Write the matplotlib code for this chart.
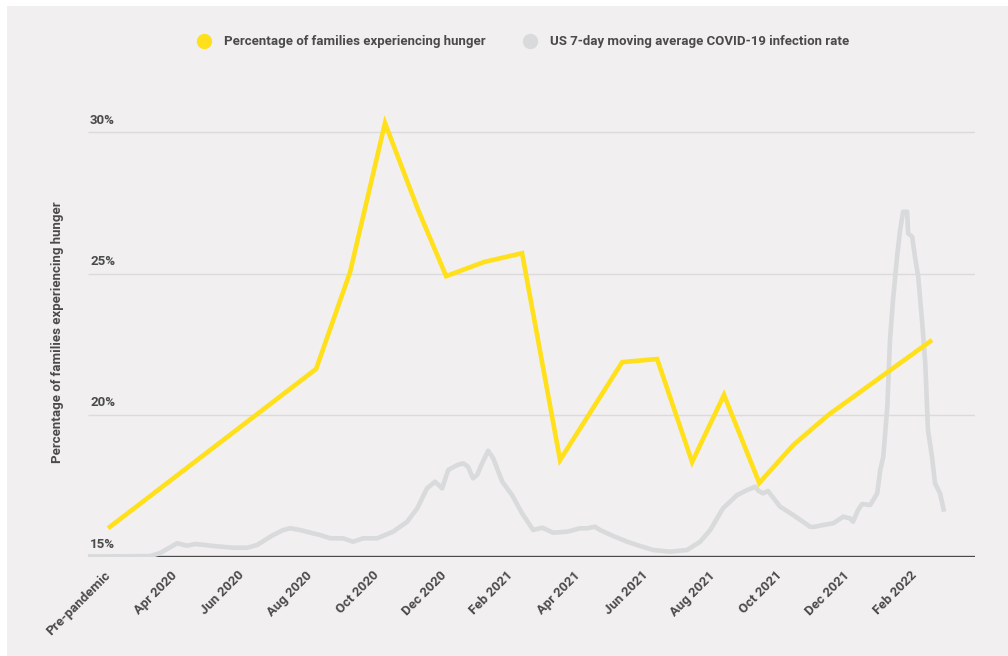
import matplotlib
matplotlib.use("Agg")
import matplotlib.pyplot as plt
from matplotlib.lines import Line2D
from matplotlib.patches import Rectangle

# x positions are months after the pre-pandemic survey point (Feb 2020 = 0)
tick_labels = ["Pre-pandemic", "Apr 2020", "Jun 2020", "Aug 2020", "Oct 2020", "Dec 2020",
               "Feb 2021", "Apr 2021", "Jun 2021", "Aug 2021", "Oct 2021", "Dec 2021", "Feb 2022"]
tick_months = [0, 2, 4, 6, 8, 10, 12, 14, 16, 18, 20, 22, 24]

hunger_months = [0, 6.19, 7.20, 8.24, 9.23, 10.06, 11.19, 12.32, 13.45, 15.30, 16.34,
                 17.38, 18.33, 19.38, 20.39, 21.43, 24.52]
hunger_pct = [16.0, 21.63, 25.05, 30.32, 27.24, 24.91, 25.41, 25.72, 18.41, 21.87, 21.98,
              18.34, 20.71, 17.60, 18.94, 20.0, 22.65]

# US 7-day average of new cases, thousands
covid_months = [-0.6, 1.25, 1.55, 2.05, 2.35, 2.59, 3.13, 3.72, 4.14, 4.43, 4.91, 5.21,
                5.42, 5.71, 6.10, 6.31, 6.61, 6.99, 7.29, 7.59, 8.01, 8.48, 8.90, 9.20,
                9.49, 9.73, 9.94, 10.12, 10.39, 10.57, 10.71, 10.86, 10.98, 11.13, 11.31,
                11.46, 11.73, 12.02, 12.32, 12.65, 12.92, 13.24, 13.66, 14.05, 14.26,
                14.49, 14.64, 15.03, 15.45, 15.83, 16.22, 16.73, 17.23, 17.62, 17.92,
                18.30, 18.72, 19.02, 19.26, 19.35, 19.49, 19.64, 20.0, 20.39, 20.89,
                21.0, 21.28, 21.58, 21.88, 22.08, 22.17, 22.32, 22.44, 22.68, 22.89,
                22.98, 23.07, 23.19, 23.27, 23.36, 23.48, 23.57, 23.66, 23.78, 23.81,
                23.93, 24.02, 24.11, 24.23, 24.32, 24.40, 24.52, 24.61, 24.76, 24.88]
covid_cases = [0, 1, 8, 30.8, 25.2, 29.2, 24.5, 20.5, 20.5, 26.8, 50.2, 61.8,
               65.8, 61.8, 54.1, 50.2, 42.5, 42.5, 34.5, 42.5, 42.5, 57.9, 81.2, 112.5,
               159, 174.5, 159, 201.8, 213.5, 217.4, 209.5, 182.4, 190.1, 217.4, 246.8,
               229.1, 174.5, 143.5, 100.8, 61.8, 67.2, 55.5, 57.9, 65.8, 65.8,
               69.5, 61.8, 47.8, 34.5, 24.5, 15.2, 11.2, 15.2, 34.5, 61.8,
               112.5, 143.5, 155.1, 162.8, 153.5, 147.4, 152.8, 116.2, 96.8, 69.5,
               69.0, 73.5, 77.5, 92.9, 89.1, 81.2, 108.5, 122.5, 120.1, 147.4,
               201.8, 232.8, 349.5, 505.1, 598.4, 699.4, 761.7, 804.4, 804.4, 754,
               746.1, 695.7, 652.8, 544.1, 450.7, 295.1, 232.8, 170.8, 147.4, 104.5]

grid_pct = [20, 25, 30]
ylabels = ["15%", "20%", "25%", "30%"]

BG = "#f1eff0"
TXT = "#4a4a4a"
YELLOW = "#ffe01b"
GREY = "#d9dadb"
FS = 9.5

plt.rcParams["font.family"] = ["Roboto", "DejaVu Sans"]
plt.rcParams["font.weight"] = "bold"

fig = plt.figure(figsize=(10.08, 6.56), dpi=100, facecolor="white")
fig.patches.append(Rectangle((7 / 1008, 0), 1, 650 / 656, transform=fig.transFigure,
                             facecolor=BG, edgecolor="none", zorder=-10))

ax = fig.add_axes([88 / 1008, 99.5 / 656, 887 / 1008, 449 / 656])
ax2 = ax.twinx()
ax2.set_zorder(ax.get_zorder() - 1)
ax.patch.set_visible(False)
ax2.patch.set_visible(False)

ymin, ymax = 15, 30.87
ax.set_ylim(ymin, ymax)
ax.set_xlim(-0.6, 25.8)
ax2.set_ylim(0, 1047.7)

# grid and baseline sit under the covid line
ax2.hlines(grid_pct, 0, 1, transform=ax.get_yaxis_transform(), color="#dcdadb", lw=1, zorder=1)
ax2.hlines([ymin], 0, 1, transform=ax.get_yaxis_transform(), color=TXT, lw=2.4, zorder=2)
ax2.plot(covid_months, covid_cases, color=GREY, lw=3.3, solid_joinstyle="round",
         solid_capstyle="butt", zorder=3)

ax.plot(hunger_months, hunger_pct, color=YELLOW, lw=3.3, solid_joinstyle="miter",
        solid_capstyle="butt", zorder=4)

for a in (ax, ax2):
    for s in a.spines.values():
        s.set_visible(False)
    a.set_yticks([])
ax2.set_xticks([])

ax.set_xticks(tick_months)
ax.set_xticklabels(tick_labels, rotation=45, ha="right", va="center",
                   rotation_mode="anchor", fontsize=FS, color=TXT, fontweight="bold")
ax.tick_params(axis="x", length=0, pad=12)

for lab, v in zip(ylabels, [15] + grid_pct):
    ax.annotate(lab, (0, v), xycoords=ax.get_yaxis_transform(), xytext=(1.5, 4),
                textcoords="offset points", ha="left", va="bottom", fontsize=FS,
                color=TXT, fontweight="bold")

ax.set_ylabel("Percentage of families experiencing hunger", fontsize=FS, color=TXT,
              fontweight="bold", labelpad=17)

handles = [Line2D([], [], color=YELLOW, marker="o", ls="none", markersize=10),
           Line2D([], [], color=GREY, marker="o", ls="none", markersize=10)]
fig.legend(handles, ["Percentage of families experiencing hunger",
                     "US 7-day moving average COVID-19 infection rate"],
           loc="center", bbox_to_anchor=(0.516, 0.936), ncol=2, frameon=False,
           prop={"size": FS, "weight": "bold"}, labelcolor=TXT,
           handletextpad=0.5, columnspacing=2.4)

fig.savefig("out.png", dpi=100, facecolor="white")
